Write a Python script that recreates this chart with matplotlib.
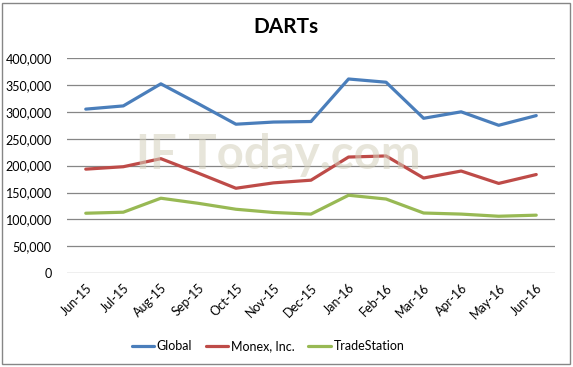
import matplotlib
matplotlib.use("Agg")
import matplotlib.pyplot as plt
from matplotlib.patches import Rectangle

months = ["Jun-15", "Jul-15", "Aug-15", "Sep-15", "Oct-15", "Nov-15", "Dec-15",
          "Jan-16", "Feb-16", "Mar-16", "Apr-16", "May-16", "Jun-16"]
global_vals = [305000, 311000, 352000, 315000, 277000, 281000, 282000,
               361000, 355000, 288000, 300000, 275000, 293000]
monex_vals = [193500, 198000, 213000, 186000, 158000, 168000, 173000,
              216000, 218000, 177000, 190000, 167000, 183500]
tradestation_vals = [111600, 113500, 139500, 130000, 119000, 113000, 110000,
                     145000, 138000, 112000, 110000, 106000, 108000]
yticks = [0, 50000, 100000, 150000, 200000, 250000, 300000, 350000, 400000]

plt.rcParams['font.family'] = ['Lato', 'DejaVu Sans']

W, H = 573, 367
fig = plt.figure(figsize=(W / 100, H / 100), dpi=100)
ax = fig.add_axes([67 / W, 1 - 273.3 / H, (555 - 67) / W, (273.3 - 58) / H])

x = list(range(len(months)))
ax.plot(x, global_vals, color="#4a7ebb", lw=2.3, label="Global", solid_capstyle="round")
ax.plot(x, monex_vals, color="#be4b48", lw=2.3, label="Monex, Inc.", solid_capstyle="round")
ax.plot(x, tradestation_vals, color="#98b954", lw=2.3, label="TradeStation", solid_capstyle="round")

ax.set_xlim(-0.5, len(months) - 0.5)
ax.set_ylim(0, 400000)
ax.set_yticks(yticks)
ax.set_yticklabels([f"{v:,}" for v in yticks], fontsize=9)
ax.set_xticks(x)
ax.set_xticklabels(months, rotation=45, ha="right", rotation_mode="anchor", fontsize=9)
ax.tick_params(axis="both", length=0, pad=6)
ax.tick_params(axis="y", pad=11)
ax.yaxis.grid(True, color="#868686", lw=0.9)
ax.set_axisbelow(True)
for s in ax.spines.values():
    s.set_visible(False)

fig.text(278 / W, 1 - 155 / H, "IF Today.com", fontsize=34, fontweight="bold",
         color="#d4d0bc", alpha=0.55, ha="center", va="center", zorder=5)

fig.text(286 / W, 1 - 27 / H, "DARTs", fontsize=15, fontweight="bold", ha="center", va="center")

leg = fig.legend(*ax.get_legend_handles_labels(), loc="center",
                 bbox_to_anchor=(268 / W, 1 - 346 / H),
                 ncol=3, frameon=False, fontsize=9, handlelength=1.8, columnspacing=1.1,
                 handletextpad=0.2)

fig.patches.append(Rectangle((2 / W, 3 / H), (W - 5) / W, (H - 6) / H, transform=fig.transFigure,
                             fill=False, edgecolor="#868686", lw=1.0))

fig.savefig("out.png", dpi=100)
